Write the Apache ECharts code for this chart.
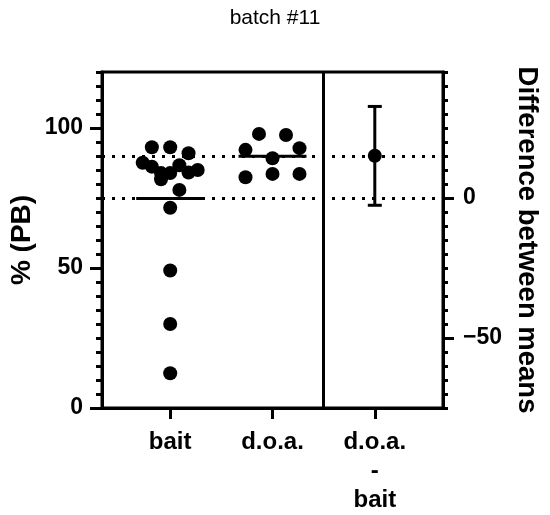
<!DOCTYPE html>
<html><head><meta charset="utf-8">
<script src="https://cdn.jsdelivr.net/npm/echarts@6/dist/echarts.min.js"></script>
<style>html,body{margin:0;padding:0;background:#fff}#c{width:550px;height:515px}</style>
</head><body><div id="c"></div>
<script>
// ---- data ----
const titleText = 'batch #11';
const categories = ['bait', 'd.o.a.', 'd.o.a.\n-\nbait'];
const baitValues = [93.1, 93.1, 91.0, 87.6, 86.2, 83.9, 83.9, 86.7, 84.1, 85.0, 81.7, 77.9, 71.5, 49.1, 30.0, 12.4];
const doaValues = [97.9, 97.5, 92.2, 89.2, 92.8, 82.4, 83.6, 83.6];
const diffCI = [-2.6, 32.7];
const leftTicks = [0, 50, 100];
const rightTicks = [0, -50];
const yTitle = '% (PB)';
const y2Title = 'Difference between means';

const mean = a => a.reduce((s, v) => s + v, 0) / a.length;
const meanBait = mean(baitValues);
const meanDoa = mean(doaValues);
const diff = meanDoa - meanBait;

const FONT = "'Liberation Sans', Arial, sans-serif";
const BLACK = '#000';
const chart = echarts.init(document.getElementById('c'), null, {renderer: 'canvas'});

const axisLineStyle = {show: true, lineStyle: {color: BLACK, width: 3}};
function yAxisBase(extra) {
  return Object.assign({
    type: 'value', splitLine: {show: false}, axisLine: {show: false},
  }, extra);
}

const option = {
  animation: false,
  backgroundColor: '#fff',
  title: {text: titleText, left: 'center', top: 3,
    textStyle: {fontFamily: FONT, fontSize: 21, fontWeight: 'normal', color: BLACK}},
  grid: {left: 101, right: 107, top: 72, bottom: 107, show: true, borderColor: BLACK, borderWidth: 3, containLabel: false},
  xAxis: [{
    type: 'value', min: 1 / 3, max: 11 / 3, position: 'bottom',
    axisLine: axisLineStyle, splitLine: {show: false},
    axisTick: {show: true, customValues: [1, 2, 3], length: 11, lineStyle: {color: BLACK, width: 3}},
    axisLabel: {show: true, customValues: [1, 2, 3], formatter: v => categories[Math.round(v) - 1],
      fontFamily: FONT, fontSize: 24, fontWeight: 'bold', color: BLACK, margin: 20, lineHeight: 29}
  }],
  yAxis: [
    yAxisBase({position: 'left', min: 0, max: 120, interval: 5,
      axisLine: axisLineStyle,
      axisTick: {show: true, length: 6, lineStyle: {color: BLACK, width: 3}},
      axisLabel: {show: false},
      name: yTitle, nameLocation: 'middle', nameGap: 66,
      nameTextStyle: {fontFamily: FONT, fontSize: 28, fontWeight: 'bold', color: BLACK}}),
    yAxisBase({position: 'left', min: 0, max: 120,
      axisTick: {show: true, customValues: leftTicks, length: 12, lineStyle: {color: BLACK, width: 3}},
      axisLabel: {show: true, customValues: leftTicks, margin: 19,
        fontFamily: FONT, fontSize: 23, fontWeight: 'bold', color: BLACK}}),
    yAxisBase({position: 'right', min: -75, max: 45, interval: 5,
      axisLine: axisLineStyle,
      axisTick: {show: true, length: 5, lineStyle: {color: BLACK, width: 3}},
      axisLabel: {show: false},
      name: y2Title, nameLocation: 'middle', nameGap: 70, nameRotate: -90,
      nameTextStyle: {fontFamily: FONT, fontSize: 27.5, fontWeight: 'bold', color: BLACK}}),
    yAxisBase({position: 'right', min: -75, max: 45,
      axisTick: {show: true, customValues: rightTicks, length: 11, lineStyle: {color: BLACK, width: 3}},
      axisLabel: {show: true, customValues: rightTicks, margin: 20,
        formatter: v => String(v).replace('-', '\u2212'),
        fontFamily: FONT, fontSize: 23, fontWeight: 'bold', color: BLACK}})
  ],
  series: []
};
chart.setOption(option);

// pixel scale from the library's axes
const pxY = chart.convertToPixel({yAxisIndex: 0}, 0) - chart.convertToPixel({yAxisIndex: 0}, 1);
const pxX = chart.convertToPixel({xAxisIndex: 0}, 2) - chart.convertToPixel({xAxisIndex: 0}, 1);

// Prism-like row spreading: points within rowPx of a row's top share a row;
// rows sit on a hex-like column grid that fits within +-halfWidthPx.
function spread(values, cx, halfWidthPx, rowPx) {
  const order = values.map((v, i) => i).sort((a, b) => values[b] - values[a] || a - b);
  const rows = [];
  order.forEach(i => {
    const last = rows[rows.length - 1];
    if (last && (values[last.top] - values[i]) * pxY <= rowPx) last.items.push(i);
    else rows.push({top: i, items: [i]});
  });
  const nmax = Math.max(...rows.map(r => r.items.length));
  const colsPerSide = Math.max(1, Math.min(nmax - 1, 3));
  const col = halfWidthPx / colsPerSide;
  const res = new Array(values.length);
  rows.forEach(r => {
    const items = r.items.slice().sort((a, b) => a - b);
    const n = items.length;
    const spacing = n > 1 ? Math.min(2 * col, 2 * halfWidthPx / (n - 1)) : 0;
    items.forEach((idx, k) => {
      const off = (k - (n - 1) / 2) * spacing;
      res[idx] = [cx + off / pxX, values[idx]];
    });
  });
  return res;
}

const dotStyle = {color: BLACK, opacity: 1};
chart.setOption({
  series: [
    {
      type: 'custom', name: 'means', xAxisIndex: 0, yAxisIndex: 0, z: 2,
      data: [[1, meanBait], [2, meanDoa]],
      renderItem: (params, api) => {
        const p = api.coord([api.value(0), api.value(1)]);
        return {type: 'line', shape: {x1: p[0] - 34, y1: p[1], x2: p[0] + 34, y2: p[1]},
          style: {stroke: BLACK, lineWidth: 3}};
      },
      markLine: {
        silent: true, symbol: 'none', label: {show: false}, animation: false,
        lineStyle: {color: BLACK, width: 3, type: [3, 7], opacity: 1},
        emphasis: {disabled: true},
        data: [
          {yAxis: meanBait},
          {yAxis: meanDoa},
          {xAxis: 2.5, lineStyle: {type: 'solid', width: 3, color: BLACK}}
        ]
      }
    },
    {type: 'scatter', name: 'bait', xAxisIndex: 0, yAxisIndex: 0, z: 3,
      symbol: 'circle', symbolSize: 14, itemStyle: dotStyle,
      data: spread(baitValues, 1, 27.5, 11)},
    {type: 'scatter', name: 'doa', xAxisIndex: 0, yAxisIndex: 0, z: 3,
      symbol: 'circle', symbolSize: 14, itemStyle: dotStyle,
      data: spread(doaValues, 2, 27, 11)},
    {
      type: 'custom', name: 'ci', xAxisIndex: 0, yAxisIndex: 3, z: 3,
      data: [[3, diffCI[0], diffCI[1]]],
      renderItem: (params, api) => {
        const x = api.value(0);
        const a = api.coord([x, api.value(1)]);
        const b = api.coord([x, api.value(2)]);
        const st = {stroke: BLACK, lineWidth: 3};
        return {type: 'group', children: [
          {type: 'line', shape: {x1: a[0], y1: a[1], x2: b[0], y2: b[1]}, style: st},
          {type: 'line', shape: {x1: a[0] - 7, y1: a[1], x2: a[0] + 7, y2: a[1]}, style: st},
          {type: 'line', shape: {x1: b[0] - 7, y1: b[1], x2: b[0] + 7, y2: b[1]}, style: st}
        ]};
      }
    },
    {type: 'scatter', name: 'diff', xAxisIndex: 0, yAxisIndex: 3, z: 4,
      symbol: 'circle', symbolSize: 14, itemStyle: dotStyle,
      data: [[3, diff]]}
  ]
});
</script></body></html>
